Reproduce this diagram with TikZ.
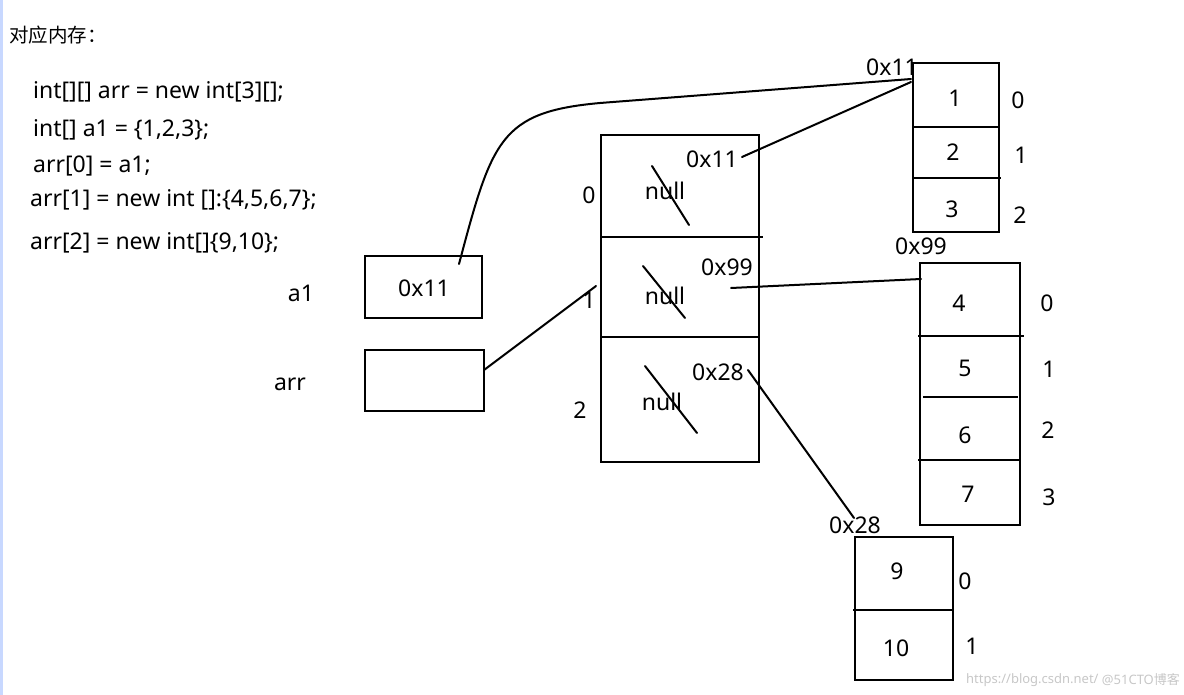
\documentclass[tikz,border=0pt]{standalone}
\usepackage{fontspec}
\setmainfont{Noto Sans}
\newfontfamily\cjk{Noto Sans CJK SC}
\definecolor{edgeblue}{RGB}{200,216,255}
\begin{document}
\begin{tikzpicture}[x=1pt,y=-1pt,
  txt/.style={inner sep=0pt,font=\fontsize{23}{25}\selectfont},
  code/.style={txt,anchor=west},
  ln/.style={line width=2pt,line cap=round},
  box/.style={line width=2.2pt},
  wm/.style={inner sep=0pt,font=\fontsize{13}{15}\selectfont,text=black!22,anchor=west}]
\useasboundingbox (0,0) rectangle (1184,695);
\fill[edgeblue] (0,0) rectangle (2.5,695);

% title and code
\node[code] (title) at (9,35) {\cjk\fontsize{19.5}{21}\selectfont 对应内存：};
\node[code] (c1) at (33,92) {int[][] arr = new int[3][];};
\node[code] (c2) at (33,130) {int[] a1 = \{1,2,3\};};
\node[code] (c3) at (33,166) {arr[0] = a1;};
\node[code] (c4) at (30,200) {arr[1] = new int []:\{4,5,6,7\};};
\node[code] (c5) at (30,243) {arr[2] = new int[]\{9,10\};};

% stack variables
\node[txt] (la1) at (301,293) {a1};
\node[txt] (larr) at (290,384) {arr};
\draw[box] (365,256) rectangle (482,318);
\node[txt] (va1) at (424,288) {0x11};
\draw[box] (365,350) rectangle (484,411);
\coordinate (arrout) at (484,370);
\coordinate (a1out) at (459,264);

% middle array
\draw[box] (601,135) rectangle (759,462);
\draw[box] (601,237) -- (763,237);
\draw[box] (601,337) -- (759,337);
\node[txt] (i0) at (589,195) {0};
\node[txt] (i1) at (589,300) {1};
\node[txt] (i2) at (580,410) {2};
\node[txt] (n0) at (665,191) {null};
\node[txt] (n1) at (665,296) {null};
\node[txt] (n2) at (662,402) {null};
\draw[ln] (652,166) -- (689,225);
\draw[ln] (643,266) -- (685,318);
\draw[ln] (645,366) -- (697,433);
\node[txt] (p0) at (712,159) {0x11};
\node[txt] (p1) at (727,267) {0x99};
\node[txt] (p2) at (718,372) {0x28};
\coordinate (mid1in) at (596,286);

% array {1,2,3}
\draw[box] (913,63) rectangle (999,232);
\draw[box] (912,127) -- (1000,127);
\draw[box] (913,178) -- (1001,178);
\node[txt] (h11) at (892,67) {0x11};
\node[txt] (v1) at (955,98) {1};
\node[txt] (v2) at (953,152) {2};
\node[txt] (v3) at (952,209) {3};
\node[txt] (j10) at (1018,100) {0};
\node[txt] (j11) at (1021,155) {1};
\node[txt] (j12) at (1020,215) {2};
\coordinate (A) at (911,79);
\coordinate (A2) at (911,82);

% array {4,5,6,7}
\draw[box] (920,263) rectangle (1020,525);
\draw[box] (918,336) -- (1024,336);
\draw[box] (923,397) -- (1018,397);
\draw[box] (918,460) -- (1020,460);
\node[txt] (h99) at (921,246) {0x99};
\node[txt] (v4) at (959,303) {4};
\node[txt] (v5) at (965,368) {5};
\node[txt] (v6) at (965,435) {6};
\node[txt] (v7) at (968,494) {7};
\node[txt] (j20) at (1047,303) {0};
\node[txt] (j21) at (1049,369) {1};
\node[txt] (j22) at (1048,430) {2};
\node[txt] (j23) at (1049,497) {3};
\coordinate (B) at (921,279);

% array {9,10}
\draw[box] (855,537) rectangle (953,680);
\draw[box] (853,610) -- (953,610);
\node[txt] (h28) at (855,525) {0x28};
\node[txt] (v9) at (897,571) {9};
\node[txt] (v10) at (896,648) {10};
\node[txt] (j30) at (965,581) {0};
\node[txt] (j31) at (972,646) {1};
\coordinate (C) at (854,518);

% connectors
\coordinate (p0out) at (742,157);
\coordinate (p1out) at (731,288);
\coordinate (p2out) at (748,370);
\draw[ln] (a1out) .. controls (492,140) and (500,112) .. (600,103) -- (A);
\draw[ln] (p0out) -- (A2);
\draw[ln] (arrout) -- (mid1in);
\draw[ln] (p1out) -- (B);
\draw[ln] (p2out) -- (C);

% watermark
\node[wm] (wm1) at (966,680) {https://blog.csdn.net/};
\node[wm] (wm2) at ([xshift=3pt]wm1.east) {@51CTO\cjk 博客};
\end{tikzpicture}
\end{document}
